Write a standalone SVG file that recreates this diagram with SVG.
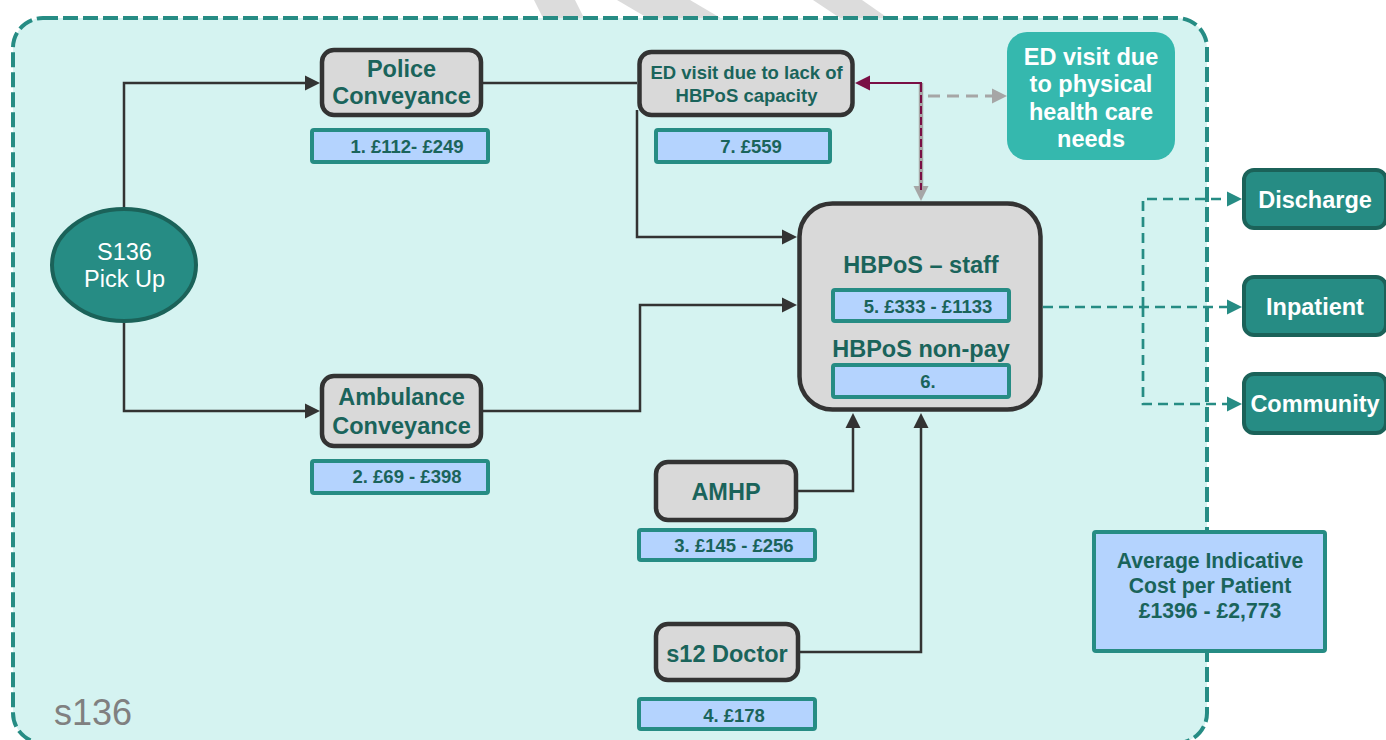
<svg xmlns="http://www.w3.org/2000/svg" width="1386" height="740" viewBox="0 0 1386 740">
<style>
  text { font-family: "Liberation Sans", Arial, sans-serif; text-anchor: middle; }
  .lbl { font-weight: bold; font-size: 23.5px; fill: #1a645b; }
  .sm { font-weight: bold; font-size: 18.5px; fill: #1a645b; }
  .av { font-weight: bold; font-size: 21.2px; fill: #1a645b; }
  .wt { font-weight: bold; font-size: 23.5px; fill: #ffffff; }
  .node { fill: #d9d9d9; stroke: #333333; stroke-width: 4.5; }
  .cost { fill: #b4d3fe; stroke: #268c84; stroke-width: 4; }
  .out { fill: #268c84; stroke: #1b6259; stroke-width: 4; }
  .ln { fill: none; stroke: #333333; stroke-width: 2.5; }
  .tdash { fill: none; stroke: #268c84; stroke-width: 2.7; stroke-dasharray: 10 6; }
</style>
<defs>
  <marker id="ab" markerUnits="userSpaceOnUse" markerWidth="15" markerHeight="15" refX="0" refY="7.5" orient="auto" overflow="visible"><path d="M0,0 L15,7.5 L0,15 z" fill="#333333"/></marker>
  <marker id="at" markerUnits="userSpaceOnUse" markerWidth="15" markerHeight="15" refX="0" refY="7.5" orient="auto" overflow="visible"><path d="M0,0 L15,7.5 L0,15 z" fill="#268c84"/></marker>
  <marker id="ag" markerUnits="userSpaceOnUse" markerWidth="15" markerHeight="15" refX="0" refY="7.5" orient="auto" overflow="visible"><path d="M0,0 L15,7.5 L0,15 z" fill="#a6a6a6"/></marker>
  <marker id="am" markerUnits="userSpaceOnUse" markerWidth="15" markerHeight="15" refX="0" refY="7.5" orient="auto" overflow="visible"><path d="M0,0 L15,7.5 L0,15 z" fill="#7a0f45"/></marker>
</defs>
<rect width="1386" height="740" fill="#ffffff"/>
<polygon points="534,0 575,0 590,30 549,30" fill="#dcdcdc"/>
<polygon points="617,0 690,0 741,30 668,30" fill="#dcdcdc"/>
<polygon points="813,0 862,0 905,30 858,30" fill="#dcdcdc"/>
<rect id="s136-frame" x="13" y="18" width="1194" height="725" rx="30" fill="#d5f3f1" stroke="#268c84" stroke-width="4" stroke-dasharray="15 5"/>
<text x="93" y="725" style="font-size:36px;fill:#808080;">s136</text>

<g id="connectors">
  <path class="ln" d="M124,209 V83 H305" marker-end="url(#ab)"/>
  <path class="ln" d="M124,321 V411 H305" marker-end="url(#ab)"/>
  <path class="ln" d="M483,83 H637"/>
  <path class="ln" d="M637,110 V237 H782" marker-end="url(#ab)"/>
  <path class="ln" d="M483,411 H640 V305 H782" marker-end="url(#ab)"/>
  <path class="ln" d="M798,491 H853 V428" marker-end="url(#ab)"/>
  <path class="ln" d="M800,652 H921 V428" marker-end="url(#ab)"/>
  <path d="M921,83 V186" fill="none" stroke="#a6a6a6" stroke-width="4.5" marker-end="url(#ag)"/>
  <path d="M921,84 V190" fill="none" stroke="#7a0f45" stroke-width="2" stroke-dasharray="8 3"/>
  <path d="M922,83 H870" fill="none" stroke="#7a0f45" stroke-width="2.2" marker-end="url(#am)"/>
  <path d="M928,96 H992" fill="none" stroke="#a6a6a6" stroke-width="3.2" stroke-dasharray="12 7" marker-end="url(#ag)"/>
  <path class="tdash" d="M1043,307 H1227" marker-end="url(#at)"/>
  <path class="tdash" d="M1143,307 V199 H1227" marker-end="url(#at)"/>
  <path class="tdash" d="M1143,307 V404 H1227" marker-end="url(#at)"/>
</g>

<g id="s136-pickup">
  <ellipse cx="124" cy="265" rx="72" ry="56" fill="#268c84" stroke="#1b6259" stroke-width="4"/>
  <text x="124.5" y="260" style="font-size:23.5px;fill:#ffffff;">S136</text>
  <text x="124.5" y="287" style="font-size:23.5px;fill:#ffffff;">Pick Up</text>
</g>

<g id="police">
  <rect class="node" x="322" y="50" width="159" height="65" rx="12"/>
  <text class="lbl" x="401.5" y="77">Police</text>
  <text class="lbl" x="401.5" y="104">Conveyance</text>
</g>
<g id="cost1">
  <rect class="cost" x="312" y="130" width="176" height="32" rx="2"/>
  <text class="sm" x="407" y="153">1. £112- £249</text>
</g>

<g id="ambulance">
  <rect class="node" x="322" y="376" width="159" height="70" rx="12"/>
  <text class="lbl" x="401.5" y="405">Ambulance</text>
  <text class="lbl" x="401.5" y="434">Conveyance</text>
</g>
<g id="cost2">
  <rect class="cost" x="312" y="461" width="176" height="32" rx="2"/>
  <text class="sm" x="407" y="483">2. £69 - £398</text>
</g>

<g id="ed-capacity">
  <rect class="node" x="639.5" y="52" width="213" height="63" rx="12"/>
  <text class="sm" x="746.5" y="79">ED visit due to lack of</text>
  <text class="sm" x="746.5" y="102">HBPoS capacity</text>
</g>
<g id="cost7">
  <rect class="cost" x="656" y="130" width="174" height="32" rx="2"/>
  <text class="sm" x="751" y="153">7. £559</text>
</g>

<g id="ed-physical">
  <rect x="1007" y="32" width="168" height="128" rx="20" fill="#35b8ae"/>
  <text class="wt" x="1091" y="65">ED visit due</text>
  <text class="wt" x="1091" y="92">to physical</text>
  <text class="wt" x="1091" y="120">health care</text>
  <text class="wt" x="1091" y="147">needs</text>
</g>

<g id="hbpos">
  <rect class="node" x="799.5" y="203.5" width="241" height="206" rx="33"/>
  <text class="lbl" x="921" y="273">HBPoS – staff</text>
  <rect class="cost" x="833" y="290" width="176" height="31" rx="2"/>
  <text class="sm" x="928" y="313">5. £333 - £1133</text>
  <text class="lbl" x="921" y="357">HBPoS non-pay</text>
  <rect class="cost" x="833" y="365" width="176" height="32" rx="2"/>
  <text class="sm" x="928" y="388">6.</text>
</g>

<g id="amhp">
  <rect class="node" x="656" y="462" width="140" height="58" rx="12"/>
  <text class="lbl" x="726" y="500">AMHP</text>
</g>
<g id="cost3">
  <rect class="cost" x="639" y="530" width="176" height="30" rx="2"/>
  <text class="sm" x="734" y="552">3. £145 - £256</text>
</g>

<g id="s12-doctor">
  <rect class="node" x="656" y="624" width="142" height="56" rx="12"/>
  <text class="lbl" x="727" y="662">s12 Doctor</text>
</g>
<g id="cost4">
  <rect class="cost" x="639" y="699" width="176" height="30" rx="2"/>
  <text class="sm" x="734" y="722">4. £178</text>
</g>

<g id="discharge">
  <rect class="out" x="1244" y="170" width="142" height="58" rx="10"/>
  <text class="wt" x="1315" y="208">Discharge</text>
</g>
<g id="inpatient">
  <rect class="out" x="1244" y="277" width="142" height="58" rx="10"/>
  <text class="wt" x="1315" y="315">Inpatient</text>
</g>
<g id="community">
  <rect class="out" x="1244" y="374" width="142" height="59" rx="10"/>
  <text class="wt" x="1315" y="412">Community</text>
</g>

<g id="average-cost">
  <rect class="cost" x="1094" y="532" width="231" height="119" rx="2"/>
  <text class="av" x="1210" y="568">Average Indicative</text>
  <text class="av" x="1210" y="593">Cost per Patient</text>
  <text class="av" x="1210" y="618">£1396 - £2,773</text>
</g>
</svg>
